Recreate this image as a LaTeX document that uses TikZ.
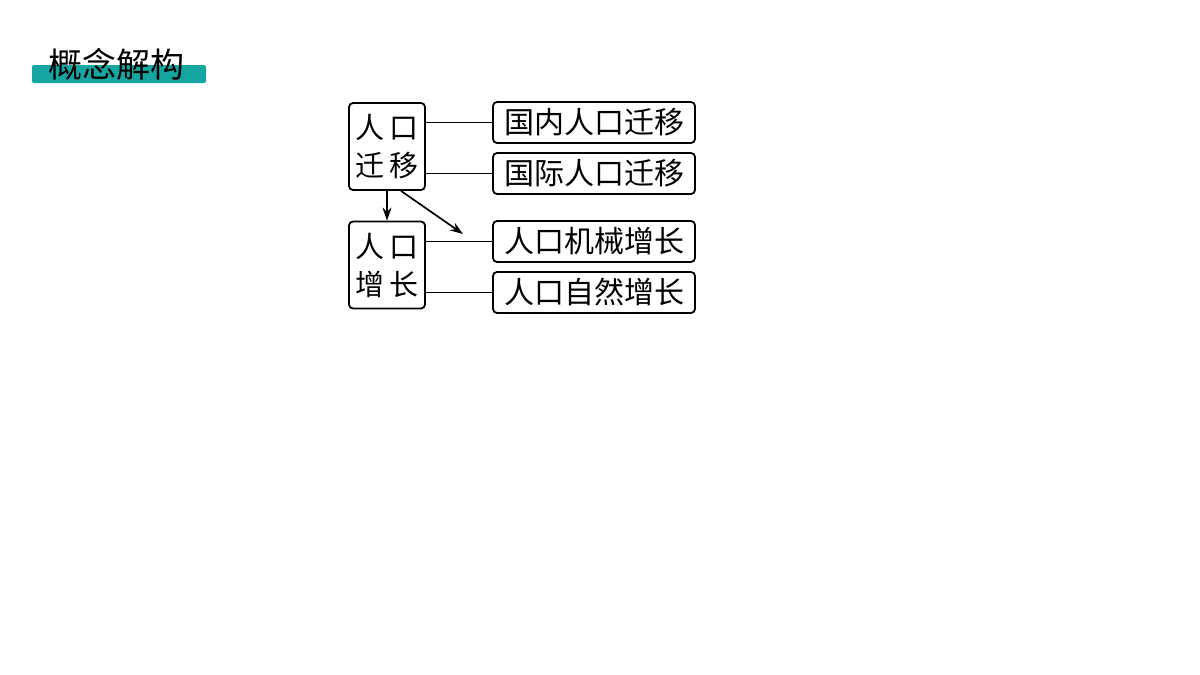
\documentclass[tikz,border=0pt]{standalone}
\usepackage{fontspec}
\newfontfamily\cjk{Noto Sans CJK SC}
\usetikzlibrary{arrows.meta,calc}
\definecolor{barteal}{RGB}{22,166,162}
\begin{document}
\begin{tikzpicture}[x=1pt,y=-1pt,
  box/.style={draw, line width=1.8pt, rounded corners=4pt, inner sep=0pt},
  leftbox/.style={box, minimum width=76pt, minimum height=87pt, align=center,
    font=\cjk\fontsize{29}{38}\selectfont},
  rightbox/.style={box, minimum width=202pt, minimum height=41pt,
    font=\cjk\fontsize{30}{30}\selectfont},
  conn/.style={line width=1.7pt},
  arr/.style={conn, -{Stealth[length=13pt,width=9pt]}}]
\useasboundingbox (0,0) rectangle (1200,675);
\fill[white] (0,0) rectangle (1200,675);
% header
\fill[barteal, rounded corners=2pt] (32,65) rectangle (206,83);
\node[font=\cjk\fontsize{34}{34}\selectfont, inner sep=0pt] (title) at (116,64) {概念解构};
% left boxes
\node[leftbox] (A) at (387,146.5) {\raisebox{-3pt}{人\hspace{6pt}口}\\\raisebox{-3pt}{迁\hspace{6pt}移}};
\node[leftbox] (B) at (387,265) {\raisebox{-3pt}{人\hspace{6pt}口}\\\raisebox{-3pt}{增\hspace{6pt}长}};
% right boxes
\node[rightbox] (n1) at (594,122.5) {国内人口迁移};
\node[rightbox] (n2) at (594,173.5) {国际人口迁移};
\node[rightbox] (n3) at (594,241.5) {人口机械增长};
\node[rightbox] (n4) at (594,292.5) {人口自然增长};
% connectors
\draw[conn] (A.east |- n1.west) -- (n1.west);
\draw[conn] (A.east |- n2.west) -- (n2.west);
\draw[conn] (B.east |- n3.west) -- (n3.west);
\draw[conn] (B.east |- n4.west) -- (n4.west);
\draw[arr] (A.south) -- (B.north);
\coordinate (tip) at (463,234);
\draw[arr] ([xshift=14pt]A.south) -- (tip);
\end{tikzpicture}
\end{document}
